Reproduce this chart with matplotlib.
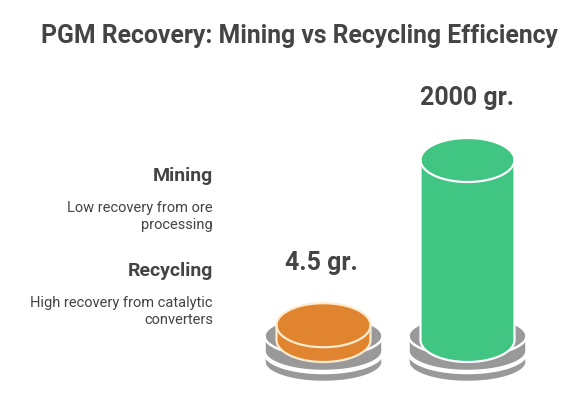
import numpy as np
import matplotlib
matplotlib.use("Agg")
import matplotlib.pyplot as plt
from matplotlib.path import Path
from matplotlib.patches import PathPatch

# ---- data ----
categories = ["Mining", "Recycling"]
descriptions = [["Low recovery from ore", "processing"],
                ["High recovery from catalytic", "converters"]]
values = [4.5, 2000]
value_labels = ["4.5 gr.", "2000 gr."]
bar_colors = ["#E0842F", "#40C583"]
title = "PGM Recovery: Mining vs Recycling Efficiency"

# ---- layout ----
W, H = 588, 406
fig = plt.figure(figsize=(W / 100, H / 100), dpi=100)
ax = fig.add_axes([0, 0, 1, 1])
ax.set_xlim(0, W)
ax.set_ylim(H, 0)
ax.axis("off")

TEXT = "#444444"
GRAY = "#999999"
FONT = "Roboto"

centers = [323.5, 467.5]
cyl_rx, cyl_ry = 47, 22
base_rx, base_ry = 59, 20
floor = 341          # centre of cylinder bottom ellipse
h_max = 180          # height for the largest value
power = 0.41         # perceptual power scale


def cylinder_path(cx, rx, ry, ytop, ybot):
    t1 = np.linspace(np.pi, 0, 80)          # bottom front arc (left -> right)
    t2 = np.linspace(0, np.pi, 80)          # top back arc (right -> left)
    xs = np.concatenate([[cx - rx], cx + rx * np.cos(t1), cx + rx * np.cos(t2)])
    ys = np.concatenate([[ytop], ybot + ry * np.sin(t1), ytop - ry * np.sin(t2)])
    verts = np.column_stack([xs, ys])
    verts = np.vstack([verts, verts[0]])
    codes = [Path.MOVETO] + [Path.LINETO] * (len(verts) - 2) + [Path.CLOSEPOLY]
    return Path(verts, codes)


def draw_cylinder(cx, rx, ry, ytop, ybot, color, edge, lw, z):
    ax.add_patch(PathPatch(cylinder_path(cx, rx, ry, ytop, ybot),
                           facecolor=color, edgecolor=edge, lw=lw, zorder=z,
                           joinstyle="round"))
    t = np.linspace(np.pi, 0, 80)
    ax.plot(cx + rx * np.cos(t), ytop + ry * np.sin(t), color=edge, lw=lw,
            zorder=z + 0.1, solid_capstyle="round")


vmax = max(values)
for i, (v, c, cx) in enumerate(zip(values, bar_colors, centers)):
    # base: two stacked gray discs
    draw_cylinder(cx, base_rx, base_ry, 354, 363, GRAY, "white", 1.8, 1)
    draw_cylinder(cx, base_rx, base_ry, 337, 352, GRAY, "white", 1.8, 2)
    h = h_max * (v / vmax) ** power
    ytop = floor - h
    edge = "#FDEBD0" if i == 0 else "white"
    draw_cylinder(cx, cyl_rx, cyl_ry, ytop, floor, c, edge, 1.6, 3)
    ax.text(cx - 2 + i * 1, ytop - cyl_ry - 34, value_labels[i], ha="center",
            va="baseline", fontsize=18, fontweight="bold", color=TEXT,
            family=FONT)

# title
ax.text(299.5, 43, title, ha="center", va="baseline", fontsize=17.8,
        fontweight="bold", color=TEXT, family=FONT)

# left labels
label_base = [181, 276]
for i, (cat, desc) in enumerate(zip(categories, descriptions)):
    ax.text(213, label_base[i], cat, ha="right", va="baseline", fontsize=14,
            fontweight="bold", color=TEXT, family=FONT)
    for j, line in enumerate(desc):
        ax.text(213, label_base[i] + 31 + j * 17.5, line, ha="right",
                va="baseline", fontsize=10.5, color=TEXT, family=FONT)

fig.savefig("out.png", dpi=100, facecolor="white")
